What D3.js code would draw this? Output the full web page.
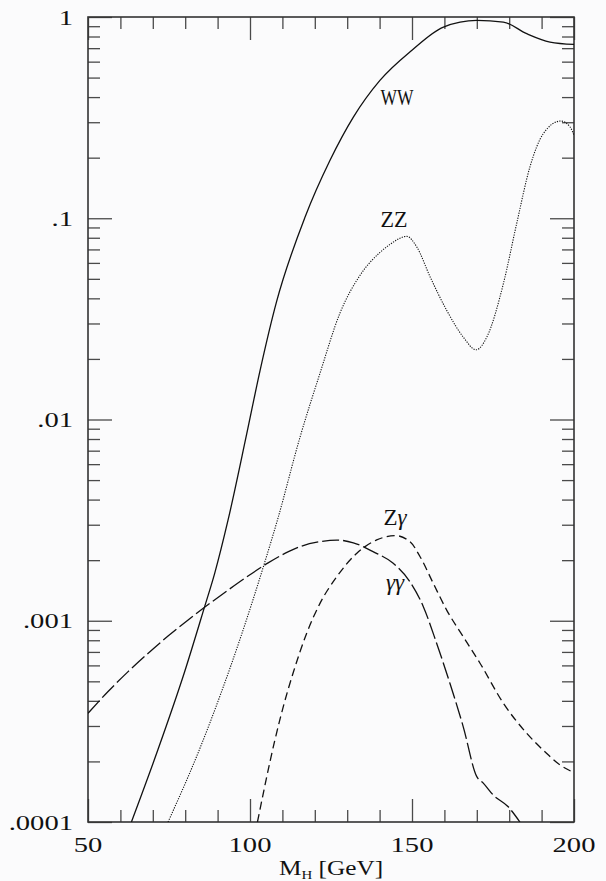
<!DOCTYPE html>
<html>
<head>
<meta charset="utf-8">
<script src="https://cdn.jsdelivr.net/npm/d3@7"></script>
<style>
  body { margin: 0; background: #fbfbfc; }
  svg { display: block; }
  .lbl { font-family: "Liberation Serif", serif; fill: #111; }
</style>
</head>
<body>
<svg id="chart"></svg>
<script>
// branching ratios vs Higgs mass
var wwMass = [63.4, 71.6, 79.8, 86, 89.1, 93.2, 99, 103.1, 108.2, 117, 124.7, 131.9, 140.1, 149.9, 159.7, 170, 178.2, 185.4, 192.6, 200];
var wwBR   = [1e-4, 2.29e-4, 5.56e-4, 1.175e-3, 1.72e-3, 3.15e-3, 8.5e-3, 0.0175, 0.0385, 0.1014, 0.194, 0.318, 0.484, 0.682, 0.891, 0.962, 0.944, 0.826, 0.751, 0.731];

var zzMass = [74.7, 84, 91.1, 97.3, 104.5, 108.6, 115.4, 121.6, 127.8, 133.9, 140.1, 143.2, 148.4, 151.5, 155.6, 160.7, 165.8, 169.8, 173.1, 178.2, 182.3, 186.4, 190.5, 195.9, 198.8, 200];
var zzBR   = [1e-4, 2.21e-4, 4.39e-4, 8.45e-4, 1.94e-3, 3.22e-3, 8.13e-3, 0.01698, 0.0339, 0.0519, 0.0676, 0.0741, 0.0813, 0.0719, 0.0511, 0.0349, 0.0257, 0.0222, 0.0257, 0.0473, 0.094, 0.18, 0.263, 0.304, 0.284, 0.258];

var ggMass = [50, 56.2, 62.3, 68.5, 74.7, 80.9, 86.5, 93.2, 99.4, 105.6, 111.7, 115.4, 121.6, 126.8, 131.9, 138.1, 144.2, 149.4, 153.5, 157.6, 161.7, 165.8, 170, 172, 175.1, 179.7, 183.3];
var ggBR   = [3.47e-4, 4.45e-4, 5.57e-4, 6.88e-4, 8.39e-4, 1.009e-3, 1.183e-3, 1.419e-3, 1.668e-3, 1.938e-3, 2.199e-3, 2.334e-3, 2.471e-3, 2.517e-3, 2.44e-3, 2.2e-3, 1.93e-3, 1.56e-3, 1.175e-3, 7.73e-4, 4.89e-4, 2.98e-4, 1.68e-4, 1.56e-4, 1.36e-4, 1.19e-4, 1e-4];

var zgMass = [102.3, 107.6, 109.3, 111.7, 113.4, 117.5, 121.6, 126.8, 132.9, 139.1, 144.8, 149.4, 152.5, 156.6, 160.7, 165.8, 171, 178.2, 185.4, 191.6, 195.7, 200];
var zgBR   = [1e-4, 2.52e-4, 3.26e-4, 4.52e-4, 5.56e-4, 8.67e-4, 1.22e-3, 1.656e-3, 2.16e-3, 2.52e-3, 2.65e-3, 2.47e-3, 2.08e-3, 1.53e-3, 1.13e-3, 8.34e-4, 6.15e-4, 3.89e-4, 2.76e-4, 2.19e-4, 1.92e-4, 1.76e-4];

var xMajor = [50, 100, 150, 200];
var xMinor = [60, 70, 80, 90, 110, 120, 130, 140, 160, 170, 180, 190];
var xTickLabels = ["50", "100", "150", "200"];
var yMajor = [1e-4, 1e-3, 1e-2, 1e-1, 1];
var yTickLabels = [".0001", ".001", ".01", ".1", "1"];

var margin = {top: 17, left: 88},
    width = 486,
    height = 805;

var svg = d3.select("#chart").attr("width", 606).attr("height", 881);
var g = svg.append("g").attr("transform", "translate(" + margin.left + "," + margin.top + ")");

var x = d3.scaleLinear().domain([50, 200]).range([0, width]);
var y = d3.scaleLog().domain([1e-4, 1]).range([height, 0]);

// minor y ticks 2..9 per decade
var yMinor = [];
yMajor.slice(0, 4).forEach(function(d) {
  for (var k = 2; k <= 9; k++) yMinor.push(d * k);
});

function tickAxis(axis, tx, ty) {
  var a = g.append("g").attr("transform", "translate(" + tx + "," + ty + ")").call(axis);
  a.select(".domain").remove();
  a.selectAll("line").attr("stroke", "#4a4a4a").attr("stroke-width", 1.3);
}
// ticks on all four sides, pointing inward
tickAxis(d3.axisBottom(x).tickValues(xMinor).tickSize(12).tickFormat(""), 0, 0);
tickAxis(d3.axisBottom(x).tickValues(xMajor).tickSize(23).tickFormat(""), 0, 0);
tickAxis(d3.axisTop(x).tickValues(xMinor).tickSize(12).tickFormat(""), 0, height);
tickAxis(d3.axisTop(x).tickValues(xMajor).tickSize(23).tickFormat(""), 0, height);
tickAxis(d3.axisRight(y).tickValues(yMinor).tickSize(12).tickFormat(""), 0, 0);
tickAxis(d3.axisRight(y).tickValues(yMajor).tickSize(24).tickFormat(""), 0, 0);
tickAxis(d3.axisLeft(y).tickValues(yMinor).tickSize(12).tickFormat(""), width, 0);
tickAxis(d3.axisLeft(y).tickValues(yMajor).tickSize(24).tickFormat(""), width, 0);

// frame
g.append("rect")
  .attr("width", width).attr("height", height)
  .attr("fill", "none").attr("stroke", "#333").attr("stroke-width", 1.6);

// tick labels
g.selectAll(".xl").data(xMajor).enter().append("text")
  .attr("class", "lbl")
  .attr("transform", function(d) { return "translate(" + x(d) + "," + (height + 30) + ") scale(1.3,1)"; })
  .attr("text-anchor", "middle")
  .style("font-size", "22px")
  .text(function(d, i) { return xTickLabels[i]; });

g.selectAll(".yl").data(yMajor).enter().append("text")
  .attr("class", "lbl")
  .attr("transform", function(d) { return "translate(-15," + (y(d) + 7.5) + ") scale(1.3,1)"; })
  .attr("text-anchor", "end")
  .style("font-size", "22px")
  .text(function(d, i) { return yTickLabels[i]; });

// axis title
var xt = svg.append("text")
  .attr("class", "lbl")
  .attr("transform", "translate(" + (margin.left + width / 2) + ",875) scale(1.15,1)")
  .attr("text-anchor", "middle")
  .style("font-size", "22px");
xt.append("tspan").text("M");
xt.append("tspan").attr("dy", 4).style("font-size", "13px").text("H");
xt.append("tspan").attr("dy", -4).text(" [GeV]");

// curves, clipped to the frame
svg.append("clipPath").attr("id", "clip")
  .append("rect").attr("x", margin.left).attr("y", margin.top).attr("width", width).attr("height", height);

var line = d3.line()
  .x(function(d) { return x(d[0]); })
  .y(function(d) { return y(d[1]); })
  .curve(d3.curveMonotoneX);

function zipSeries(m, v) { return m.map(function(d, i) { return [d, v[i]]; }); }

var cg = svg.append("g").attr("clip-path", "url(#clip)")
  .append("g").attr("transform", "translate(" + margin.left + "," + margin.top + ")");

cg.append("path").datum(zipSeries(wwMass, wwBR))
  .attr("d", line).attr("fill", "none").attr("stroke", "#111").attr("stroke-width", 1.3);
cg.append("path").datum(zipSeries(zzMass, zzBR))
  .attr("d", line).attr("fill", "none").attr("stroke", "#111").attr("stroke-width", 1.1)
  .attr("stroke-dasharray", "1.2,1.3");
cg.append("path").datum(zipSeries(ggMass, ggBR))
  .attr("d", line).attr("fill", "none").attr("stroke", "#111").attr("stroke-width", 1.3)
  .attr("stroke-dasharray", "17,4");
cg.append("path").datum(zipSeries(zgMass, zgBR))
  .attr("d", line).attr("fill", "none").attr("stroke", "#111").attr("stroke-width", 1.3)
  .attr("stroke-dasharray", "8,4.5");

// curve labels
function curveLabel(px, py) {
  return svg.append("text").attr("class", "lbl")
    .attr("x", px).attr("y", py).attr("text-anchor", "middle")
    .style("font-size", "23px");
}
curveLabel(397, 105).attr("textLength", 33).attr("lengthAdjust", "spacingAndGlyphs").text("WW");
curveLabel(394, 227).attr("textLength", 27).attr("lengthAdjust", "spacingAndGlyphs").text("ZZ");
var zg = curveLabel(395, 525);
zg.append("tspan").text("Z");
zg.append("tspan").style("font-style", "italic").text("γ");
curveLabel(395, 590).style("font-style", "italic").text("γγ");
</script>
</body>
</html>
